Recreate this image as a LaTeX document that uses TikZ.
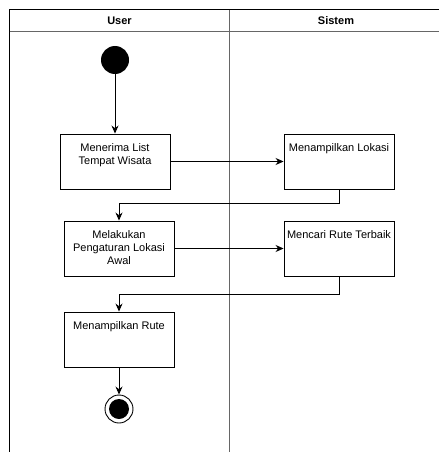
\documentclass[tikz,border=0pt]{standalone}
\usepackage{fontspec}
\setmainfont{Liberation Sans}
\usetikzlibrary{arrows.meta}

\newcommand{\acttext}[1]{\parbox[c][55pt][t]{108pt}{\centering\vspace*{9.5pt}#1}}

\begin{document}
\begin{tikzpicture}[x=1pt, y=-1pt, >={Stealth[length=8pt,width=7pt]},
	every node/.style={font=\fontsize{11}{13}\selectfont},
	act/.style={draw, line width=0.9pt, inner sep=0pt, minimum width=110pt, minimum height=55pt},
	lane/.style={line width=1.2pt, draw=black!60},
	start/.style={circle, fill=black, minimum size=28pt, inner sep=0pt},
	stop/.style={circle, draw, line width=0.9pt, fill=white, minimum size=28pt, inner sep=0pt,
		path picture={\fill[black] (path picture bounding box.center) circle (10pt);}}]
	\useasboundingbox (0,0) rectangle (439,452);

	% Define lanes
	\draw[line width=1pt] (439,10) -- (9.5,10) -- (9.5,452);
	\draw[lane] (9.5,31.5) -- (439,31.5);
	\draw[lane] (229.5,10) -- (229.5,452);
	\node (user) at (119.5,21) {\bfseries User};
	\node (sistem) at (336,21) {\bfseries Sistem};

	% Define nodes
	\node (mulai) [start] at (115,60) {};
	\node (terima) [act] at (115,161.5) {\acttext{Menerima List\\Tempat Wisata}};
	\node (lokasi) [act] at (339,161.5) {\acttext{Menampilkan Lokasi}};
	\node (atur) [act] at (119,248.5) {\acttext{Melakukan\\Pengaturan Lokasi\\Awal}};
	\node (cari) [act] at (339,248.5) {\acttext{Mencari Rute Terbaik}};
	\node (rute) [act] at (119,339.5) {\acttext{Menampilkan Rute}};
	\node (selesai) [stop] at (119,409) {};

	% Draw edges
	\path[->, line width=0.9pt]
	(mulai) edge (terima)
	(terima) edge (lokasi)
	(lokasi.south) edge[to path={-- ++(0,14) -| (\tikztotarget)}] (atur.north)
	(atur) edge (cari)
	(cari.south) edge[to path={-- ++(0,18) -| (\tikztotarget)}] (rute.north)
	(rute) edge (selesai);
\end{tikzpicture}
\end{document}
